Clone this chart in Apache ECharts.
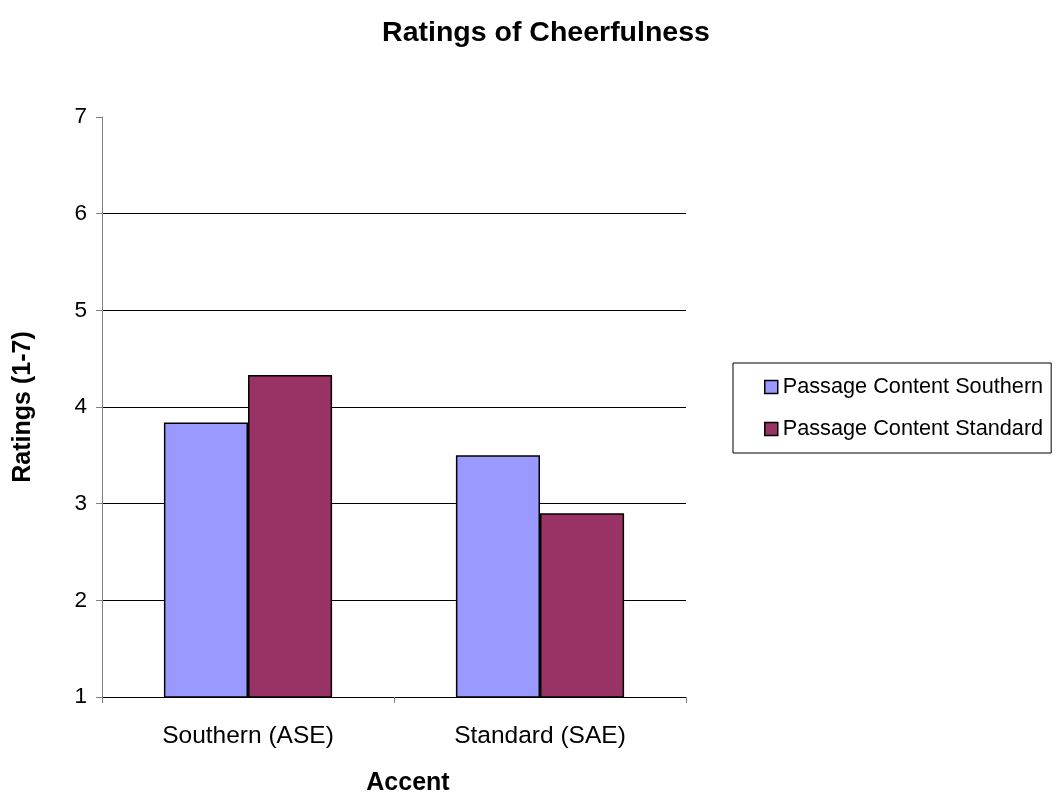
<!DOCTYPE html>
<html>
<head>
<meta charset="utf-8">
<title>Ratings of Cheerfulness</title>
<script src="https://cdn.jsdelivr.net/npm/echarts@6/dist/echarts.min.js"></script>
<style>
  html, body { margin: 0; padding: 0; background: #fff; }
  #chart { width: 1056px; height: 795px; }
</style>
</head>
<body>
<div id="chart"></div>
<script>
// Mean cheerfulness ratings (scale 1-7) by speaker accent and passage content
const accents = ['Southern (ASE)', 'Standard (SAE)'];
const contentSouthern = [3.84, 3.50];
const contentStandard = [4.33, 2.90];
const seriesNames = ['Passage Content Southern', 'Passage Content Standard'];

const FONT = '"Liberation Sans", Arial, Helvetica, sans-serif';

const chart = echarts.init(document.getElementById('chart'), null, { renderer: 'canvas' });

chart.setOption({
  backgroundColor: '#ffffff',
  animation: false,
  textStyle: { fontFamily: FONT, color: '#000' },
  title: {
    text: 'Ratings of Cheerfulness',
    left: 546,
    top: 19,
    padding: 0,
    textAlign: 'center',
    textStyle: { fontFamily: FONT, fontSize: 28.5, fontWeight: 'bold', color: '#000' }
  },
  legend: {
    orient: 'vertical',
    left: 733,
    top: 363,
    padding: [13, 8, 13, 31],
    itemGap: 20,
    itemWidth: 13,
    itemHeight: 13,
    borderColor: '#000',
    borderWidth: 1,
    icon: 'rect',
    itemStyle: { borderColor: '#000', borderWidth: 1.5 },
    textStyle: { fontFamily: FONT, fontSize: 21.7, color: '#000' },
    data: seriesNames
  },
  grid: {
    left: 102, right: 370, top: 117, bottom: 98,
    containLabel: false,
    outerBoundsMode: 'none'
  },
  xAxis: {
    type: 'category',
    data: accents,
    name: 'Accent',
    nameLocation: 'middle',
    nameGap: 74,
    nameTextStyle: { fontFamily: FONT, fontSize: 25, fontWeight: 'bold', color: '#000', padding: [0, 0, 0, 28] },
    axisLine: { lineStyle: { color: '#000', width: 1 } },
    axisTick: { show: true, alignWithLabel: false, length: 6, lineStyle: { color: '#808080' } },
    axisLabel: { fontFamily: FONT, fontSize: 24.5, color: '#000', margin: 27 },
    splitLine: { show: false }
  },
  yAxis: {
    type: 'value',
    min: 1,
    max: 7,
    interval: 1,
    name: 'Ratings (1-7)',
    nameLocation: 'middle',
    nameGap: 66,
    nameRotate: 90,
    nameTextStyle: { fontFamily: FONT, fontSize: 25, fontWeight: 'bold', color: '#000' },
    axisLine: { show: true, lineStyle: { color: '#808080', width: 1 } },
    axisTick: { show: true, inside: false, length: 6, lineStyle: { color: '#808080' } },
    axisLabel: { fontFamily: FONT, fontSize: 22.5, color: '#000', margin: 15 },
    splitLine: { show: true, showMaxLine: false, showMinLine: false, lineStyle: { color: '#000', width: 1 } }
  },
  series: [
    {
      name: seriesNames[0],
      type: 'bar',
      data: contentSouthern,
      barWidth: '28.8%',
      barGap: '0%',
      itemStyle: { color: '#9999FF', borderColor: '#000', borderWidth: 1.5 }
    },
    {
      name: seriesNames[1],
      type: 'bar',
      data: contentStandard,
      barWidth: '28.8%',
      barGap: '0%',
      itemStyle: { color: '#993366', borderColor: '#000', borderWidth: 1.5 }
    }
  ]
});
</script>
</body>
</html>
